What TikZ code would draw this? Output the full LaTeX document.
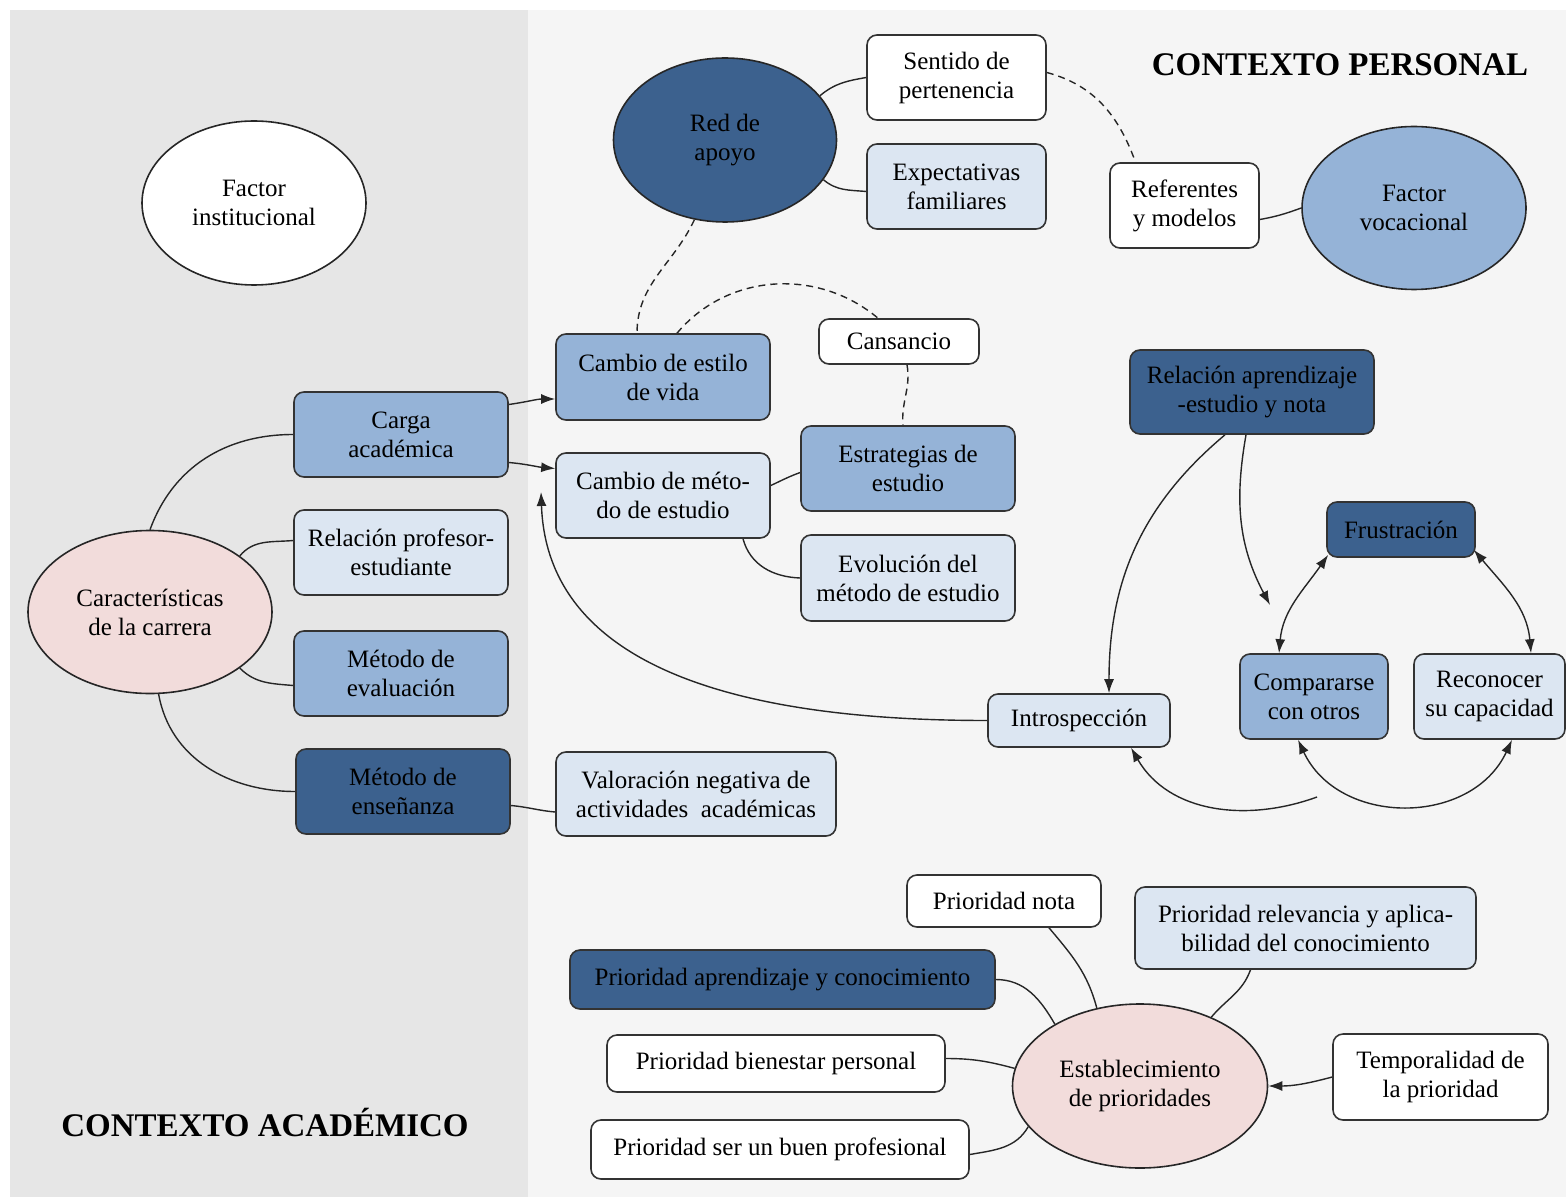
\documentclass[tikz,border=0pt]{standalone}
\usepackage{fontspec}
\setmainfont{Liberation Serif}
\usetikzlibrary{arrows.meta,shapes.geometric}
\definecolor{cdark}{HTML}{3C618E}
\definecolor{cmed}{HTML}{95B3D7}
\definecolor{clight}{HTML}{DCE6F2}
\definecolor{cpink}{HTML}{F2DCDB}
\definecolor{bgleft}{HTML}{E6E6E6}
\definecolor{bgright}{HTML}{F5F5F5}
\pgfdeclarelayer{back}
\pgfdeclarelayer{edges}
\pgfsetlayers{back,edges,main}
\newcommand\bx[7]{\node[box,#1,minimum width={(#5-#3)*0.5pt},minimum height={(#6-#4)*0.5pt}] (#2) at ({(#3+#5)/2},{(#4+#6)/2}) {#7};}
\newcommand\el[7]{\node[ell,#1,minimum width={#5*0.5pt},minimum height={#6*0.5pt}] (#2) at (#3,#4) {#7};}
\begin{document}
\begin{tikzpicture}[x=0.5pt,y=-0.5pt,
 box/.style={draw=black!80,line width=0.8pt,rounded corners=5pt,align=center,inner sep=1pt,font=\fontsize{12.5}{14.5}\selectfont},
 ell/.style={draw=black!85,line width=0.8pt,ellipse,align=center,inner sep=0pt,font=\fontsize{12.5}{14.5}\selectfont},
 dk/.style={fill=cdark}, md/.style={fill=cmed}, lt/.style={fill=clight}, wh/.style={fill=white}, pk/.style={fill=cpink},
 link/.style={draw=black!85,line width=0.7pt},
 arr/.style={link,-{Latex[length=7pt,width=5pt]}},
 darr/.style={link,{Latex[length=7pt,width=5pt]}-{Latex[length=7pt,width=5pt]}},
 dsh/.style={link,dash pattern=on 3.5pt off 2.5pt},
 ttl/.style={font=\bfseries\fontsize{16.5}{19}\selectfont}]
\useasboundingbox (0,0) rectangle (1566,1197);
\begin{pgfonlayer}{back}
\fill[bgleft] (10,10) rectangle (528,1197);
\fill[bgright] (528,10) rectangle (1566,1197);
\end{pgfonlayer}

% academic context
\el{wh}{finst}{254}{203}{224}{164}{Factor\\institucional}
\el{pk}{car}{150}{612}{244}{163}{Características\\de la carrera}
\bx{md}{carga}{294}{392}{508}{477}{Carga\\académica}
\bx{lt}{relprof}{294}{510}{508}{595}{Relación profesor-\\estudiante}
\bx{md}{meteval}{294}{631}{508}{716}{Método de\\evaluación}
\bx{dk}{metens}{296}{749}{510}{834}{Método de\\enseñanza}
\bx{md}{cestilo}{556}{334}{770}{420}{Cambio de estilo\\de vida}
\bx{lt}{cmetodo}{556}{453}{770}{538}{Cambio de méto-\\do de estudio}
\bx{wh}{cans}{819}{319}{979}{364}{Cansancio}
\bx{md}{estrat}{801}{426}{1015}{511}{Estrategias de\\estudio}
\bx{lt}{evol}{801}{535}{1015}{621}{Evolución del\\método de estudio}
\bx{lt}{valor}{556}{752}{836}{836}{Valoración negativa de\\actividades~ académicas}
\node[ttl] (tacad) at (265,1122) {CONTEXTO ACADÉMICO};

% personal context
\el{dk}{red}{725}{140}{223}{164}{Red de\\apoyo}
\bx{wh}{sent}{867}{35}{1046}{120}{Sentido de\\pertenencia}
\bx{lt}{expec}{867}{144}{1046}{229}{Expectativas\\familiares}
\bx{wh}{refer}{1110}{163}{1259}{248}{Referentes\\y modelos}
\el{md}{fvoc}{1414}{208}{224}{163}{Factor\\vocacional}
\node[ttl] (tper) at (1340,65) {CONTEXTO PERSONAL};
\bx{dk}{relap}{1130}{350}{1374}{434}{Relación aprendizaje\\-estudio y nota}
\bx{dk}{frus}{1327}{502}{1475}{557}{Frustración}
\bx{md}{comp}{1240}{654}{1388}{739}{Compararse\\con otros}
\bx{lt}{recon}{1414}{654}{1565}{739}{Reconocer\\su capacidad}
\bx{lt}{intro}{988}{694}{1170}{747}{Introspección}
\bx{wh}{pnota}{907}{875}{1101}{927}{Prioridad nota}
\bx{lt}{prelev}{1135}{887}{1476}{969}{Prioridad relevancia y aplica-\\bilidad del conocimiento}
\bx{dk}{papr}{570}{950}{995}{1009}{Prioridad aprendizaje y conocimiento}
\bx{wh}{pbien}{607}{1035}{945}{1092}{Prioridad bienestar personal}
\bx{wh}{pser}{591}{1120}{969}{1179}{Prioridad ser un buen profesional}
\el{pk}{estab}{1140}{1086}{255}{164}{Establecimiento\\de prioridades}
\bx{wh}{temp}{1333}{1034}{1548}{1120}{Temporalidad de\\la prioridad}

\coordinate (tipA) at (541,492);
\coordinate (tipB) at (1270,605);
\coordinate (startC) at (1317,797);

\begin{pgfonlayer}{edges}
\draw[link] (car.north) to[out=70,in=180] (carga.west);
\draw[link] (car.32) to[out=50,in=185] ([yshift=6pt]relprof.west);
\draw[link] (car.-32) to[out=-45,in=175] ([yshift=-6pt]meteval.west);
\draw[link] (car.-84) to[out=-80,in=180] (metens.west);
\draw[arr] ([yshift=15pt]carga.east) to[out=8,in=180] ([yshift=-11pt]cestilo.west);
\draw[arr] ([yshift=-14pt]carga.east) to[out=-5,in=175] ([yshift=13.5pt]cmetodo.west);
\draw[arr] (intro.west) to[out=180,in=-88] (tipA);
\draw[link] ([yshift=5pt]cmetodo.east) to[out=25,in=200] ([yshift=-2pt]estrat.west);
\draw[link] ([xshift=40pt]cmetodo.south) to[out=-75,in=178] (evol.west);
\draw[link] ([yshift=-7pt]metens.east) to[out=-5,in=175] ([yshift=-9pt]valor.west);
\draw[dsh] (red.249) to[out=-115,in=90] ([xshift=-13pt]cestilo.north);
\draw[dsh] ([xshift=7pt]cestilo.north) to[out=50,in=140] ([xshift=-10.5pt]cans.north);
\draw[dsh] ([xshift=4pt]cans.south) to[out=-80,in=95] ([xshift=-2.5pt]estrat.north);
\draw[dsh] ([yshift=2.5pt]sent.east) to[out=-15,in=110] ([xshift=-24.5pt]refer.north);
\draw[link] (red.25) to[out=40,in=190] (sent.west);
\draw[link] (red.-22) to[out=-40,in=175] ([yshift=-2.5pt]expec.west);
\draw[link] ([yshift=-7pt]refer.east) to[out=10,in=200] (fvoc.west);
\draw[arr] ([xshift=-13.5pt]relap.south) to[out=-140,in=90] ([xshift=15pt]intro.north);
\draw[arr] ([xshift=-3pt]relap.south) to[out=-100,in=118] (tipB);
\draw[darr] ([xshift=1pt,yshift=1.5pt]frus.south west) to[out=-125,in=85] ([xshift=-17.5pt]comp.north);
\draw[darr] ([xshift=-1pt,yshift=4pt]frus.south east) to[out=-50,in=95] ([xshift=20.75pt]recon.north);
\draw[darr] ([xshift=-8pt]comp.south) to[out=-65,in=-115,looseness=1.15] ([xshift=11.25pt]recon.south);
\draw[arr] (startC) to[out=200,in=-60] ([xshift=26pt]intro.south);
\draw[link] ([xshift=22.5pt]pnota.south) to[out=-50,in=105] (estab.119);
\draw[link] ([xshift=-27.5pt]prelev.south) to[out=-110,in=50] (estab.44);
\draw[link] (papr.east) to[out=0,in=120] (estab.144);
\draw[link] ([yshift=2.5pt]pbien.east) to[out=0,in=165] (estab.172);
\draw[link] ([yshift=-2.5pt]pser.east) to[out=10,in=-120] (estab.200);
\draw[arr] (temp.west) to[out=195,in=0] (estab.east);
\end{pgfonlayer}
\end{tikzpicture}
\end{document}
